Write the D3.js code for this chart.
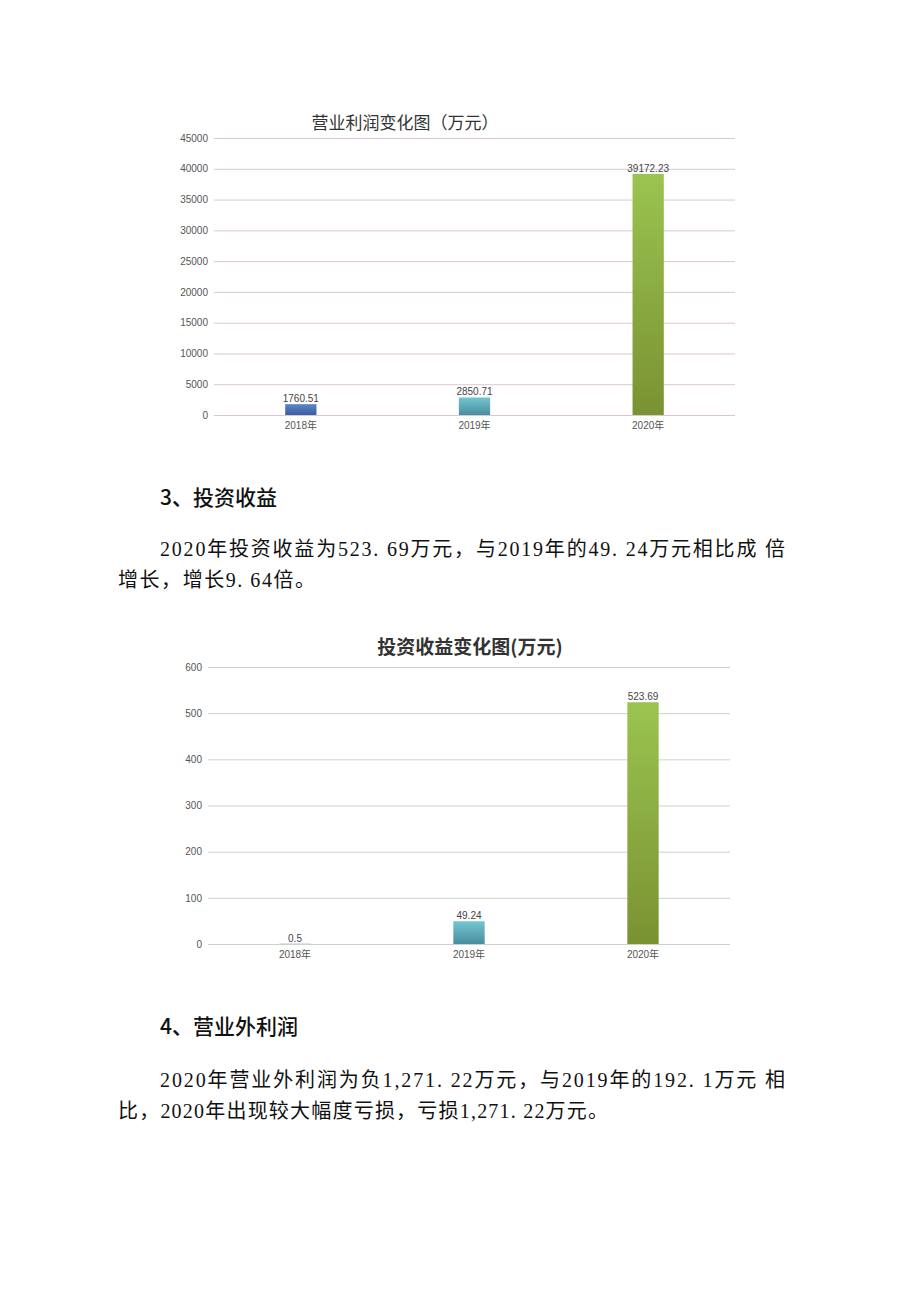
<!DOCTYPE html>
<html><head><meta charset="utf-8">
<script src="https://cdn.jsdelivr.net/npm/d3@7/dist/d3.min.js"></script>
<style>
html,body{margin:0;padding:0;background:#fff;}
svg{display:block;}
</style></head>
<body>
<svg id="page" width="920" height="1301"></svg>
<script>
// ---- data ----
const years = ["2018年", "2019年", "2020年"];
const operatingProfit = [1760.51, 2850.71, 39172.23];
const operatingProfitLabels = ["1760.51", "2850.71", "39172.23"];
const operatingTicks = [0, 5000, 10000, 15000, 20000, 25000, 30000, 35000, 40000, 45000];
const investIncome = [0.5, 49.24, 523.69];
const investLabels = ["0.5", "49.24", "523.69"];
const investTicks = [0, 100, 200, 300, 400, 500, 600];

const svg = d3.select("#page");
svg.append("rect").attr("width", 920).attr("height", 1301).attr("fill", "#fff");

const defs = svg.append("defs");
const grads = [
  {id: "g0", top: "#5a86c8", bot: "#3a5d9e"},
  {id: "g1", top: "#72c6d2", bot: "#4a8d9e"},
  {id: "g2", top: "#9ac450", bot: "#7a9232"}
];
grads.forEach(g => {
  const lg = defs.append("linearGradient").attr("id", g.id).attr("x1", 0).attr("y1", 0).attr("x2", 0).attr("y2", 1);
  lg.append("stop").attr("offset", "0%").attr("stop-color", g.top);
  lg.append("stop").attr("offset", "100%").attr("stop-color", g.bot);
});

function barChart(opt) {
  const g = svg.append("g");
  const x = d3.scaleBand().domain(years).range([opt.x0, opt.x1]).padding(0);
  const y = d3.scaleLinear().domain([0, opt.ticks[opt.ticks.length - 1]]).range([opt.yb, opt.yt]);

  const ya = g.append("g").attr("transform", `translate(${opt.x0},0)`)
    .call(d3.axisLeft(y).tickValues(opt.ticks).tickSize(-(opt.x1 - opt.x0)).tickPadding(6).tickFormat(d3.format("d")));
  ya.select(".domain").remove();
  ya.selectAll(".tick line").attr("stroke", opt.grid).attr("stroke-width", 1);
  ya.selectAll(".tick text").attr("fill", "#555").style("font-family", "'Liberation Sans', Arial, sans-serif").style("font-size", "10px");

  const xa = g.append("g").attr("transform", `translate(0,${opt.yb})`)
    .call(d3.axisBottom(x).tickSize(0).tickPadding(7));
  xa.select(".domain").remove();
  xa.selectAll(".tick text").attr("fill", "#555").style("font-family", "'Liberation Sans','Noto Sans CJK SC', sans-serif").style("font-size", "10px");

  const bw = x.bandwidth() * 0.18;
  g.selectAll("rect.bar").data(opt.values).enter().append("rect")
    .attr("class", "bar")
    .attr("x", (d, i) => x(years[i]) + x.bandwidth() / 2 - bw / 2)
    .attr("width", bw)
    .attr("y", d => y(d))
    .attr("height", d => y(0) - y(d))
    .attr("fill", (d, i) => `url(#g${i})`);

  g.selectAll("text.val").data(opt.values).enter().append("text")
    .attr("class", "val")
    .attr("x", (d, i) => x(years[i]) + x.bandwidth() / 2)
    .attr("y", d => y(d) - 2)
    .attr("text-anchor", "middle")
    .attr("fill", "#444")
    .style("font-family", "'Liberation Sans', Arial, sans-serif")
    .style("font-size", "10px")
    .text((d, i) => opt.labels[i]);

  g.append("text").attr("x", opt.tx).attr("y", opt.ty).attr("text-anchor", "middle")
    .attr("fill", opt.tcolor)
    .style("font-family", "'Noto Sans CJK SC', sans-serif")
    .style("font-size", opt.tsize + "px")
    .style("font-weight", opt.tweight)
    .text(opt.title);
}

barChart({x0: 214, x1: 735, yt: 138, yb: 415, ticks: operatingTicks, values: operatingProfit,
  labels: operatingProfitLabels, grid: "#dcc6d4",
  title: "营业利润变化图（万元）", tx: 405, ty: 129, tsize: 17, tweight: 400, tcolor: "#333"});

barChart({x0: 208, x1: 730, yt: 667, yb: 944, ticks: investTicks, values: investIncome,
  labels: investLabels, grid: "#c6d6c6",
  title: "投资收益变化图(万元)", tx: 470, ty: 654, tsize: 19, tweight: 700, tcolor: "#333"});

// ---- body text ----
const heads = [
  {t: "3、投资收益", x: 160, y: 505},
  {t: "4、营业外利润", x: 160, y: 1034}
];
heads.forEach(h => {
  svg.append("text").attr("x", h.x).attr("y", h.y).attr("fill", "#111")
    .style("font-family", "'Noto Sans CJK SC', sans-serif").style("font-size", "21px")
    .style("font-weight", 500).text(h.t);
});

const paras = [
  {t: "2020年投资收益为523. 69万元，与2019年的49. 24万元相比成 倍", x: 160, y: 556, w: 625},
  {t: "增长，增长9. 64倍。", x: 118, y: 587, w: 197},
  {t: "2020年营业外利润为负1,271. 22万元，与2019年的192. 1万元 相", x: 160, y: 1087, w: 625},
  {t: "比，2020年出现较大幅度亏损，亏损1,271. 22万元。", x: 118, y: 1118, w: 490}
];
paras.forEach(p => {
  const t = svg.append("text").attr("x", p.x).attr("y", p.y).attr("fill", "#111")
    .style("font-family", "'Liberation Serif', 'Noto Sans CJK SC', serif").style("font-size", "20px").text(p.t);
  if (p.w) t.attr("textLength", p.w).attr("lengthAdjust", "spacing");
});
</script>
</body></html>
